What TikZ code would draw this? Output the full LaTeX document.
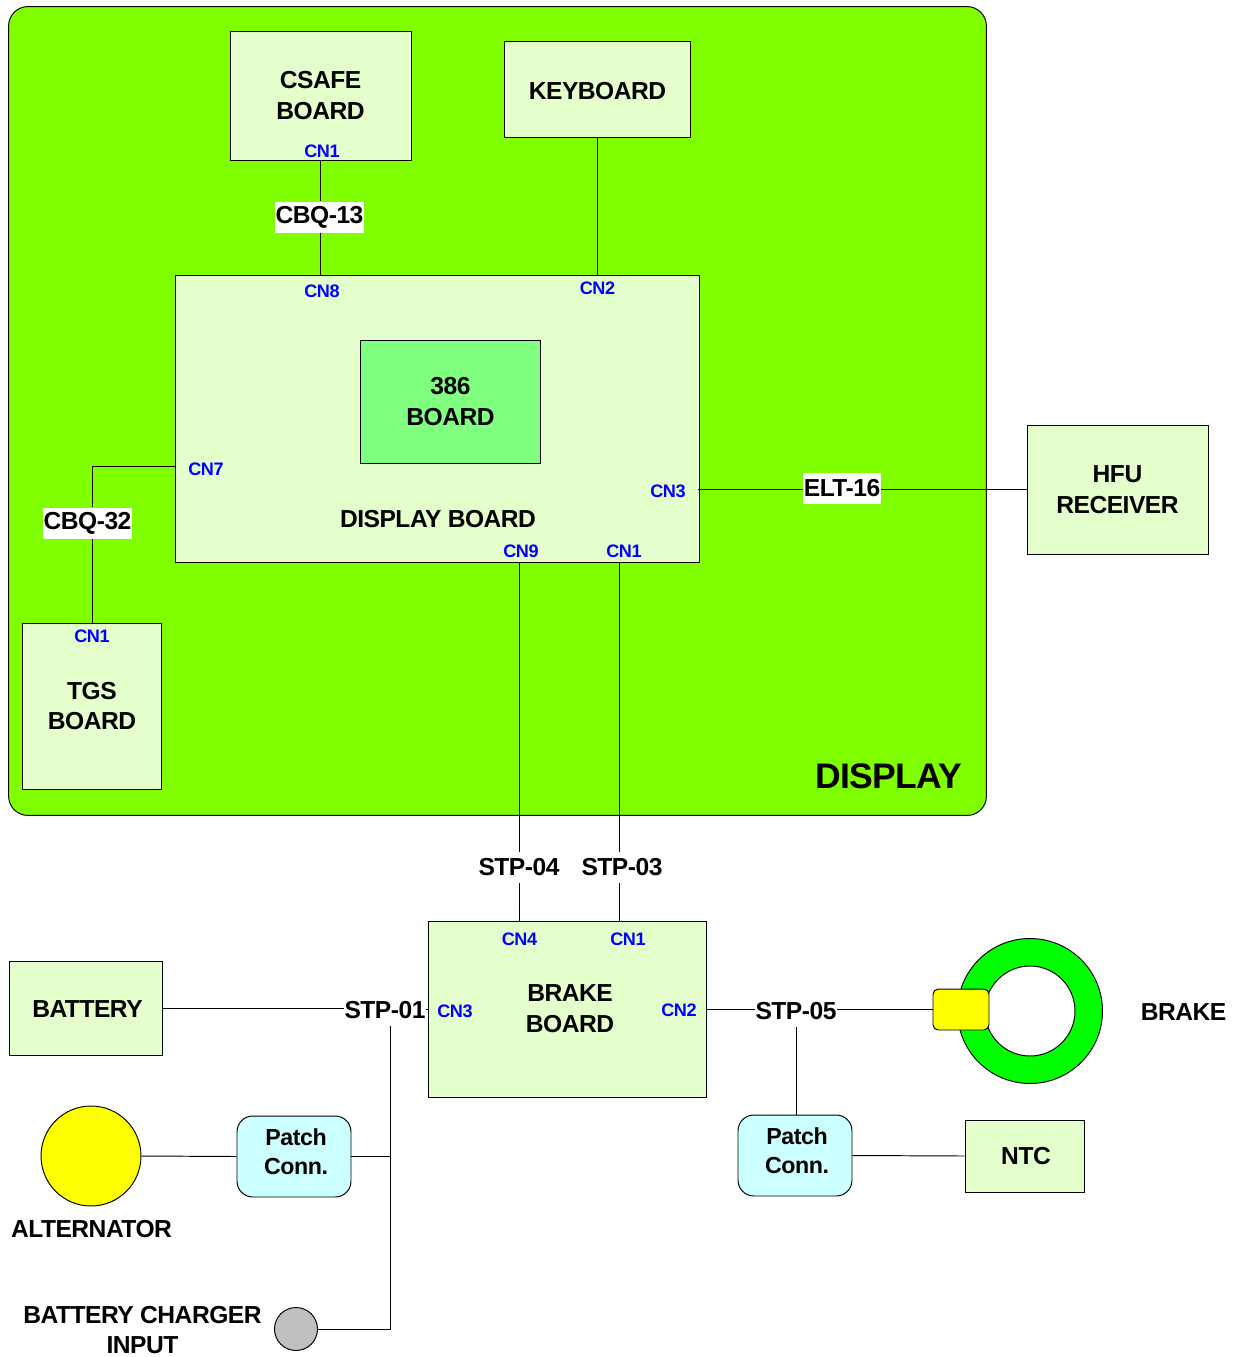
\documentclass[tikz,border=0pt]{standalone}
\usepackage{fontspec}
\setmainfont[LetterSpace=-2.0]{Liberation Sans}
\usepackage{xcolor}
\usetikzlibrary{calc,positioning}
\definecolor{panelgreen}{RGB}{128,255,0}
\definecolor{boardgreen}{RGB}{229,255,204}
\definecolor{cpugreen}{RGB}{128,255,128}
\definecolor{patchblue}{RGB}{204,255,255}
\definecolor{ringgreen}{RGB}{0,255,0}
\definecolor{partyellow}{RGB}{255,255,0}
\definecolor{chargergray}{RGB}{192,192,192}
\tikzset{
  board/.style={draw, fill=boardgreen, align=center, font=\fontsize{14}{17.6}\selectfont\bfseries, inner sep=0pt, execute at begin node={\rule{0pt}{11.6pt}}},
  patch/.style={draw, fill=patchblue, rounded corners=9pt, inner sep=0pt},
  cn/.style={text=blue, inner sep=0pt, font=\fontsize{10.3}{12}\selectfont\bfseries},
  cable/.style={fill=white, inner xsep=0.3pt, inner ysep=0pt, minimum height=0.62cm, font=\fontsize{14}{17}\selectfont\bfseries},
  caption/.style={align=center, inner sep=0pt, font=\fontsize{14}{17.6}\selectfont\bfseries},
  patchtext/.style={align=center, inner sep=0pt, font=\fontsize{13.2}{16.5}\selectfont\bfseries}
}
\begin{document}
\begin{tikzpicture}[x=0.02cm, y=-0.02cm, line width=0.55pt]
  \useasboundingbox (0,0) rectangle (1236,1357);
  % display housing
  \node[draw, fill=panelgreen, rounded corners=11pt, minimum width=19.56cm, minimum height=16.18cm, inner sep=0pt] (housing) at (497.5,411) {};
  \node[inner sep=0pt, font=\fontsize{20.2}{22}\selectfont\bfseries] (housinglabel) at (888.5,776) {DISPLAY};
  % boards
  \node[board, minimum width=3.62cm, minimum height=2.58cm] (csafe) at (320.5,95.5) {CSAFE\\BOARD};
  \node[board, minimum width=3.72cm, minimum height=1.92cm] (keyboard) at (597.5,89) {KEYBOARD};
  \node[board, minimum width=10.5cm, minimum height=5.76cm] (display) at (437.5,419) {};
  \node[board, fill=cpugreen, minimum width=3.6cm, minimum height=2.46cm] (cpu) at (450.5,401.5) {386\\BOARD};
  \node[caption] (displaylabel) at (438,519.5) {DISPLAY BOARD};
  \node[board, minimum width=2.78cm, minimum height=3.32cm] (tgs) at (92,706) {TGS\\BOARD};
  \node[board, minimum width=3.62cm, minimum height=2.58cm] (hfu) at (1117.5,489.5) {HFU\\RECEIVER};
  \node[board, minimum width=5.58cm, minimum height=3.52cm] (brake) at (567.5,1009) {};
  \node[caption] (brakelabel) at (570,1009) {BRAKE\\BOARD};
  \node[board, minimum width=3.06cm, minimum height=1.88cm] (battery) at (85.5,1008.5) {};
  \node[caption] (batterylabel) at (87.5,1009.5) {BATTERY};
  \node[board, minimum width=2.38cm, minimum height=1.44cm] (ntc) at (1024.5,1156) {};
  \node[caption] (ntclabel) at (1026,1156.5) {NTC};
  \node[patch, minimum width=2.28cm, minimum height=1.62cm] (patcha) at (294,1156.5) {};
  \node[patchtext] (patchalabel) at (296,1152) {Patch\\Conn.};
  \node[patch, minimum width=2.28cm, minimum height=1.62cm] (patchb) at (795,1155.5) {};
  \node[patchtext] (patchblabel) at (797,1151) {Patch\\Conn.};
  % round parts
  \node[draw, circle, fill=partyellow, minimum size=2cm, inner sep=0pt] (alternator) at (91,1156) {};
  \node[caption] (alternatorlabel) at (91.5,1229.5) {ALTERNATOR};
  \node[draw, circle, fill=chargergray, minimum size=0.86cm, inner sep=0pt] (charger) at (296,1329) {};
  \node[caption] (chargerlabel) at (142.5,1330) {BATTERY CHARGER\\INPUT};
  \node[draw, circle, fill=ringgreen, minimum size=2.9cm, inner sep=0pt] (ring) at (1030,1011) {};
  \node[draw, circle, fill=white, minimum size=1.8cm, inner sep=0pt] (ringhole) at (1030,1011) {};
  \node[draw, fill=partyellow, rounded corners=3pt, minimum width=1.12cm, minimum height=0.82cm, inner sep=0pt] (caliper) at (961,1009.5) {};
  \node[caption] (ringlabel) at (1183.5,1012.5) {BRAKE};
  % cable labels
  \node[cable] (cbq13) at (319.5,217) {CBQ-13};
  \node[cable] (cbq32) at (87.5,523) {CBQ-32};
  \node[cable] (elt16) at (842,488.5) {ELT-16};
  \node[cable] (stp04) at (519,867.5) {STP-04};
  \node[cable] (stp03) at (622,867.5) {STP-03};
  \node[cable] (stp01) at (385,1010) {STP-01};
  \node[cable] (stp05) at (796,1011.5) {STP-05};
  % helpers
  \coordinate (elbowa) at (92,466);
  \coordinate (cnseven) at (175,466);
  \coordinate (cnthree) at (698,489.5);
  \coordinate (stpthree) at (619.5,867);
  \coordinate (jointa) at (390,1156.5);
  \coordinate (jointb) at (390,1329);
  % connectors
  \draw (csafe.south) -- (cbq13.north -| csafe.south);
  \draw (cbq13.south -| csafe.south) -- (csafe.south |- display.north);
  \draw (keyboard.south) -- (keyboard.south |- display.north);
  \draw (tgs.north) -- (cbq32.south -| tgs.north);
  \draw (cbq32.north -| tgs.north) -- (elbowa) -- (cnseven);
  \draw (cnthree) -- (elt16.west |- cnthree);
  \draw (elt16.east |- hfu.west) -- (hfu.west);
  \draw (stp04.north |- display.south) -- (stp04.north);
  \draw (stp04.south) -- (stp04.south |- brake.north);
  \draw (stpthree |- display.south) -- (stpthree |- stp03.north);
  \draw (stpthree |- stp03.south) -- (stpthree |- brake.north);
  \draw (battery.east) -- (stp01.west |- battery.east);
  \draw (stp01.east |- brake.west) -- (brake.west);
  \draw (brake.east |- caliper.west) -- (stp05.west |- caliper.west);
  \draw (stp05.east |- caliper.west) -- (caliper.west);
  \draw (stp05.south) -- (patchb.north -| stp05.south);
  \draw (patchb.east) -- (ntc.west);
  \draw (alternator.east) -- (patcha.west);
  \draw (patcha.east) -- (jointa);
  \draw (stp01.south -| jointa) -- (jointb) -- (charger.east);
  % connector tags
  \node[cn] (csafecn) at (322,151) {CN1};
  \node[cn] (dispcna) at (322,291) {CN8};
  \node[cn] (dispcnb) at (597.5,288) {CN2};
  \node[cn] (dispcnc) at (206,469) {CN7};
  \node[cn] (dispcnd) at (668,491) {CN3};
  \node[cn] (dispcne) at (521,551) {CN9};
  \node[cn] (dispcnf) at (624,551) {CN1};
  \node[cn] (tgscn) at (92,636) {CN1};
  \node[cn] (brakecna) at (519.5,939) {CN4};
  \node[cn] (brakecnb) at (628,939) {CN1};
  \node[cn] (brakecnc) at (455,1011) {CN3};
  \node[cn] (brakecnd) at (679,1010) {CN2};
\end{tikzpicture}
\end{document}
